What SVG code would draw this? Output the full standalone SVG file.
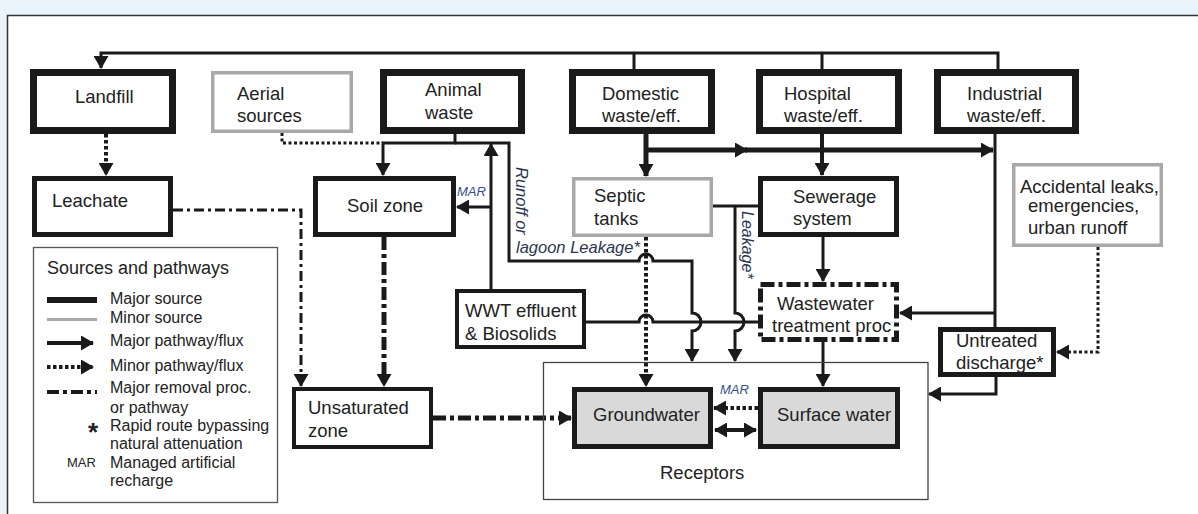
<svg xmlns="http://www.w3.org/2000/svg" width="1198" height="514" viewBox="0 0 1198 514">
<defs>
<style>
text{font-family:"Liberation Sans",Arial,sans-serif;fill:#222;}
.t{font-size:18.5px;}
.lg{font-size:16px;}
.it{font-style:italic;font-size:16.5px;fill:#2a3550;}
.mar{font-style:italic;font-size:13px;fill:#34508a;}
.major{fill:#fff;stroke:#1a1a1a;stroke-width:7;}
.med{fill:#fff;stroke:#1a1a1a;stroke-width:5;}
.thin4{fill:#fff;stroke:#1a1a1a;stroke-width:4;}
.minor{fill:#fff;stroke:#a8a8a8;stroke-width:3.5;}
.recv{fill:#d9d9d9;stroke:#1a1a1a;stroke-width:5;}
.c{fill:none;stroke:#1a1a1a;stroke-width:3;}
.c5{fill:none;stroke:#1a1a1a;stroke-width:5;}
.dot{fill:none;stroke:#1a1a1a;stroke-width:4;stroke-dasharray:3.5 2.5;}
.dot3{fill:none;stroke:#1a1a1a;stroke-width:3;stroke-dasharray:3 2.5;}
.dd{fill:none;stroke:#1a1a1a;stroke-width:3;stroke-dasharray:10 4 3 4;}
.dd5{fill:none;stroke:#1a1a1a;stroke-width:5;stroke-dasharray:13 4 4 4;}
.arr{marker-end:url(#ah);}
</style>
<marker id="ah" viewBox="0 0 13 15" refX="12" refY="7.5" markerWidth="13" markerHeight="15" markerUnits="userSpaceOnUse" orient="auto-start-reverse">
<path d="M0,0 L13,7.5 L0,15 z" fill="#1a1a1a"/>
</marker>
</defs>
<rect x="0" y="0" width="1198" height="514" fill="#eaf3fa"/>
<rect x="7.5" y="15.5" width="1195" height="505" fill="#fff" stroke="#333" stroke-width="1.5"/>

<g id="connectors">
<path class="c arr" d="M998,69 V53 H101 V68"/>
<path class="c" d="M634,53 V69 M822,53 V69"/>
<path class="dot arr" d="M106,134 V175"/>
<path class="dot3" d="M282,133 V143 H383"/>
<path class="c arr" d="M455,134 V143 H383 V175"/>
<path class="c arr" d="M455,143 H509 V261 H639 A7,7 0 0 1 653,261 H692 V313 A9,9 0 0 1 692,331 V361"/>
<path class="c arr" d="M491,289 V144"/>
<path class="c arr" d="M491,207 H457"/>
<path class="c" d="M586,322 H639 A7,7 0 0 1 653,322 H758"/>
<path class="c" d="M713,206 H758"/>
<path class="c arr" d="M735,206 V313 A9,9 0 0 1 735,331 V361"/>
<path class="dot arr" d="M646,237 V386"/>
<path class="c5 arr" d="M646,134 V176"/>
<path class="c5 arr" d="M646,150 H747"/>
<path class="c5 arr" d="M745,150 H993"/>
<path class="c arr" d="M822,134 V175" style="stroke-width:4"/>
<path class="c" d="M995,134 V327"/>
<path class="c arr" d="M995,313 H900"/>
<path class="c arr" d="M823,237 V281"/>
<path class="c arr" d="M823,342 V386"/>
<path class="c arr" d="M996,377 V394 H929"/>
<path class="dot3 arr" d="M1098,247 V352 H1057"/>
<path class="dd arr" d="M173,210 H301 V386"/>
<path class="dd5 arr" d="M384,237 V386"/>
<path class="dd5 arr" d="M433,418 H571"/>
<path class="dot arr" d="M758,408 H714"/>
<path class="c" d="M715,430 H756" style="stroke-width:4;marker-start:url(#ah);marker-end:url(#ah)"/>
<text class="mar" x="457" y="196">MAR</text>
<text class="mar" x="720" y="394">MAR</text>
<text class="it" transform="translate(516,167) rotate(90)">Runoff or</text>
<text class="it" x="516" y="253">lagoon Leakage*</text>
<text class="it" transform="translate(742,211) rotate(90)" style="font-size:16px">Leakage*</text>
</g>

<g id="landfill"><rect class="major" x="33.5" y="72.5" width="139" height="58"/><text class="t" x="75" y="103">Landfill</text></g>
<g id="aerial"><rect class="minor" x="212.75" y="72.75" width="138.5" height="58.5"/><text class="t" x="237" y="100">Aerial</text><text class="t" x="237" y="122">sources</text></g>
<g id="animal"><rect class="major" x="383.5" y="72.5" width="138" height="58"/><text class="t" x="425" y="96">Animal</text><text class="t" x="425" y="119">waste</text></g>
<g id="domestic"><rect class="major" x="572.5" y="72.5" width="139" height="58"/><text class="t" x="602" y="100">Domestic</text><text class="t" x="602" y="122">waste/eff.</text></g>
<g id="hospital"><rect class="major" x="759.5" y="72.5" width="139" height="58"/><text class="t" x="784" y="100">Hospital</text><text class="t" x="784" y="122">waste/eff.</text></g>
<g id="industrial"><rect class="major" x="937.5" y="72.5" width="138" height="58"/><text class="t" x="967" y="100">Industrial</text><text class="t" x="967" y="122">waste/eff.</text></g>

<g id="leachate"><rect class="med" x="34.5" y="178.5" width="136" height="56"/><text class="t" x="52" y="207">Leachate</text></g>
<g id="soil"><rect class="med" x="315.5" y="178.5" width="138" height="56"/><text class="t" x="347" y="212">Soil zone</text></g>
<g id="septic"><rect class="minor" x="573.75" y="178.75" width="137.5" height="56.5"/><text class="t" x="594" y="202">Septic</text><text class="t" x="594" y="225">tanks</text></g>
<g id="sewerage"><rect class="med" x="760.5" y="178.5" width="136" height="56"/><text class="t" x="793" y="203">Sewerage</text><text class="t" x="793" y="225">system</text></g>
<g id="accidental"><rect class="minor" x="1013.75" y="164.75" width="147.5" height="80.5"/><text class="t" x="1020" y="193">Accidental leaks,</text><text class="t" x="1028" y="212">emergencies,</text><text class="t" x="1028" y="234">urban runoff</text></g>

<g id="wwt"><rect class="thin4" x="457" y="291" width="127" height="56"/><text class="t" x="465" y="317">WWT effluent</text><text class="t" x="465" y="340">&amp; Biosolids</text></g>
<g id="wastewater"><rect x="760.5" y="284.5" width="136" height="55" fill="#fff" stroke="#1a1a1a" stroke-width="5" stroke-dasharray="14 4 4 4"/><text class="t" x="777" y="310">Wastewater</text><text class="t" x="772" y="332">treatment proc</text></g>
<g id="untreated"><rect class="med" x="940.5" y="329.5" width="113" height="45"/><text class="t" x="956" y="347">Untreated</text><text class="t" x="956" y="369">discharge*</text></g>
<g id="unsaturated"><rect class="thin4" x="294" y="389" width="137" height="58"/><text class="t" x="308" y="414">Unsaturated</text><text class="t" x="308" y="437">zone</text></g>

<g id="receptors"><rect x="543.5" y="362.5" width="384.5" height="137" fill="none" stroke="#444" stroke-width="1.3"/><text class="t" x="660" y="479">Receptors</text></g>
<g id="groundwater"><rect class="recv" x="574.5" y="389.5" width="136" height="57"/><text class="t" x="593" y="421">Groundwater</text></g>
<g id="surface"><rect class="recv" x="760.5" y="389.5" width="137" height="57"/><text class="t" x="777" y="421">Surface water</text></g>

<g id="legend">
<rect x="33.5" y="247.5" width="244" height="255" fill="#fff" stroke="#555" stroke-width="1.3"/>
<text x="47" y="274" style="font-size:18px">Sources and pathways</text>
<rect x="47" y="297" width="50" height="6" fill="#1a1a1a"/>
<rect x="47" y="318" width="50" height="3" fill="#a8a8a8"/>
<path class="c arr" d="M47,343 H93" style="stroke-width:4"/>
<path class="dot arr" d="M47,367 H93"/>
<path d="M47,392 H97" fill="none" stroke="#1a1a1a" stroke-width="4" stroke-dasharray="12 4 4 4"/>
<text class="lg" x="110" y="304">Major source</text>
<text class="lg" x="110" y="323">Minor source</text>
<text class="lg" x="110" y="346">Major pathway/flux</text>
<text class="lg" x="110" y="371">Minor pathway/flux</text>
<text class="lg" x="110" y="393">Major removal proc.</text>
<text class="lg" x="110" y="413">or pathway</text>
<text x="88" y="441" style="font-size:26px;font-weight:bold">*</text>
<text class="lg" x="110" y="431">Rapid route bypassing</text>
<text class="lg" x="110" y="449">natural attenuation</text>
<text x="67" y="467" style="font-size:13px">MAR</text>
<text class="lg" x="110" y="468">Managed artificial</text>
<text class="lg" x="110" y="486">recharge</text>
</g>
</svg>
